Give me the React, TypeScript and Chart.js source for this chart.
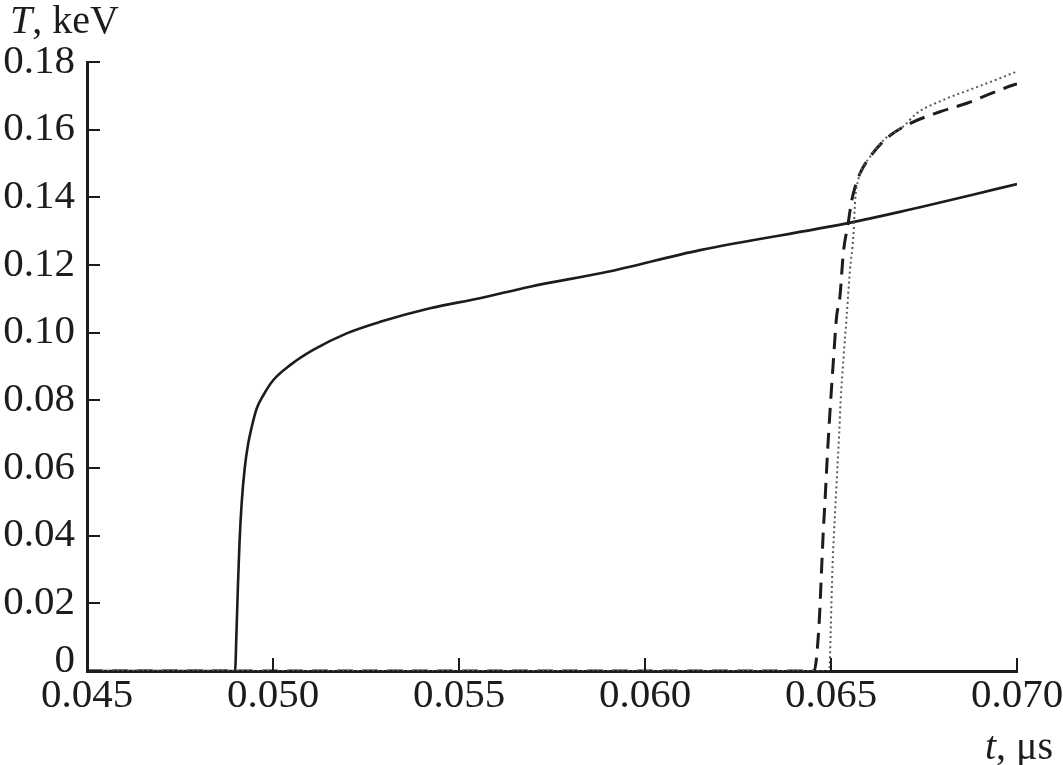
import React, { useEffect, useRef } from "react";
import { Chart, registerables } from "chart.js";

Chart.register(...registerables);

// Solid curve
const solidT = [0.045, 0.0489, 0.04898, 0.04902, 0.04906, 0.0491, 0.04916, 0.04924, 0.04933, 0.04943, 0.04956, 0.04974, 0.05001, 0.05046, 0.05108, 0.05198, 0.05288, 0.05422, 0.05556, 0.05691, 0.05900, 0.06148, 0.06542, 0.06685, 0.0700];
const solidV = [0, 0, 0, 0.012, 0.026, 0.038, 0.050, 0.060, 0.067, 0.0722, 0.0775, 0.0815, 0.0860, 0.0904, 0.0949, 0.0998, 0.1032, 0.1072, 0.1102, 0.1136, 0.1180, 0.1244, 0.1323, 0.1357, 0.1439];

// Dashed curve
const dashedT = [0.045, 0.06455, 0.06461, 0.06469, 0.06475, 0.06479, 0.06484, 0.0649, 0.06497, 0.06506, 0.06515, 0.06524, 0.06533, 0.06546, 0.06556, 0.06566, 0.06578, 0.06605, 0.0665, 0.06712, 0.06793, 0.06865, 0.06919, 0.0699, 0.0700];
const dashedV = [0, 0, 0.0038, 0.016, 0.0308, 0.0407, 0.0505, 0.0633, 0.0762, 0.091, 0.1047, 0.1106, 0.1234, 0.1323, 0.1392, 0.1435, 0.1471, 0.152, 0.1575, 0.1618, 0.1653, 0.1678, 0.1702, 0.1732, 0.1735];

// Dotted curve
const dottedT = [0.045, 0.06495, 0.06497, 0.06499, 0.06504, 0.06508, 0.06515, 0.06522, 0.06526, 0.06534, 0.06542, 0.06551, 0.0656, 0.06565, 0.06573, 0.06605, 0.0665, 0.06694, 0.0673, 0.06802, 0.06883, 0.06954, 0.0700];
const dottedV = [0, 0, 0.003, 0.011, 0.0308, 0.0407, 0.0555, 0.0703, 0.080, 0.093, 0.1047, 0.1185, 0.1284, 0.1392, 0.1451, 0.152, 0.1578, 0.1609, 0.1648, 0.1688, 0.1722, 0.1752, 0.1772];

// Tick values
const xTickValues = [0.045, 0.05, 0.055, 0.06, 0.065, 0.07];
const yTickValues = [0, 0.02, 0.04, 0.06, 0.08, 0.1, 0.12, 0.14, 0.16, 0.18];

const SERIF = "'Liberation Serif', 'Times New Roman', serif";
const INK = "#1c1c1c";

const toPts = (xs: number[], ys: number[]) => xs.map((x, i) => ({ x, y: ys[i] }));

const inwardTicks = {
  id: "inwardTicks",
  afterDraw(chart: any) {
    const ctx = chart.ctx;
    const xs = chart.scales.x;
    const ys = chart.scales.y;
    const area = chart.chartArea;
    ctx.save();
    ctx.strokeStyle = INK;
    ctx.lineWidth = 2;
    xTickValues.forEach((v) => {
      const px = Math.round(xs.getPixelForValue(v));
      ctx.beginPath();
      ctx.moveTo(px, area.bottom);
      ctx.lineTo(px, area.bottom - 13);
      ctx.stroke();
    });
    yTickValues.forEach((v) => {
      const py = Math.round(ys.getPixelForValue(v));
      ctx.beginPath();
      ctx.moveTo(area.left, py);
      ctx.lineTo(area.left + 13, py);
      ctx.stroke();
    });
    ctx.restore();
  },
};

const axisTitles = {
  id: "axisTitles",
  afterDraw(chart: any) {
    const ctx = chart.ctx;
    ctx.save();
    ctx.fillStyle = INK;
    ctx.textBaseline = "alphabetic";
    ctx.textAlign = "left";
    // y title
    ctx.font = `italic 40px ${SERIF}`;
    ctx.fillText("T", 10, 33);
    const wT = ctx.measureText("T").width;
    ctx.font = `40px ${SERIF}`;
    ctx.fillText(", keV", 10 + wT, 33);
    // x title
    ctx.font = `40px ${SERIF}`;
    const rest = ", μs";
    const wRest = ctx.measureText(rest).width;
    ctx.font = `italic 40px ${SERIF}`;
    const wt = ctx.measureText("t").width;
    const right = 1053;
    ctx.fillText("t", right - wRest - wt, 759);
    ctx.font = `40px ${SERIF}`;
    ctx.fillText(rest, right - wRest, 759);
    ctx.restore();
  },
};

export default function App() {
  const ref = useRef<HTMLCanvasElement | null>(null);
  useEffect(() => {
    document.body.style.margin = "0";
    const canvas = ref.current;
    if (!canvas) return;
    const chart = new Chart(canvas, {
      type: "line",
      data: {
        datasets: [
          {
            data: toPts(dottedT, dottedV),
            borderColor: "#5a5a5a",
            borderWidth: 2,
            borderDash: [2, 3],
            pointRadius: 0,
            cubicInterpolationMode: "monotone",
            fill: false,
          },
          {
            data: toPts(dashedT, dashedV),
            borderColor: INK,
            borderWidth: 3,
            borderDash: [16, 9],
            pointRadius: 0,
            cubicInterpolationMode: "monotone",
            fill: false,
          },
          {
            data: toPts(solidT, solidV),
            borderColor: INK,
            borderWidth: 2.6,
            pointRadius: 0,
            cubicInterpolationMode: "monotone",
            fill: false,
          },
        ],
      },
      options: {
        animation: false,
        responsive: true,
        maintainAspectRatio: false,
        layout: { padding: { left: 0, right: 46, top: 62, bottom: 0 } },
        plugins: { legend: { display: false }, tooltip: { enabled: false }, title: { display: false } },
        scales: {
          x: {
            type: "linear",
            min: 0.045,
            max: 0.07,
            afterBuildTicks: (s: any) => {
              s.ticks = xTickValues.map((v) => ({ value: v }));
            },
            afterFit: (s: any) => {
              s.height = 94;
              s.paddingLeft = 0;
              s.paddingRight = 0;
            },
            grid: { display: true, drawOnChartArea: false, drawTicks: false },
            border: { display: true, color: INK, width: 3 },
            ticks: {
              color: INK,
              padding: 5,
              maxRotation: 0,
              autoSkip: false,
              font: { family: SERIF, size: 41, lineHeight: 1 },
              callback: (v: any) => Number(v).toFixed(3),
            },
          },
          y: {
            type: "linear",
            min: 0,
            max: 0.18,
            afterBuildTicks: (s: any) => {
              s.ticks = yTickValues.map((v) => ({ value: v }));
            },
            afterFit: (s: any) => {
              s.width = 87;
              s.paddingTop = 0;
              s.paddingBottom = 0;
            },
            grid: { display: true, drawOnChartArea: false, drawTicks: false },
            border: { display: true, color: INK, width: 3 },
            ticks: {
              color: INK,
              padding: 12,
              autoSkip: false,
              font: (c: any) => ({
                family: SERIF,
                size: 41,
                lineHeight: c.tick && c.tick.value === 0 ? 0.5 : 1,
              }),
              callback: (v: any) => (Number(v) === 0 ? ["0", ""] : Number(v).toFixed(2)),
            },
          },
        },
      },
      plugins: [inwardTicks, axisTitles],
    } as any);
    return () => chart.destroy();
  }, []);
  return (
    <div style={{ width: 1063, height: 765, position: "relative", background: "#fff" }}>
      <canvas ref={ref} />
    </div>
  );
}
